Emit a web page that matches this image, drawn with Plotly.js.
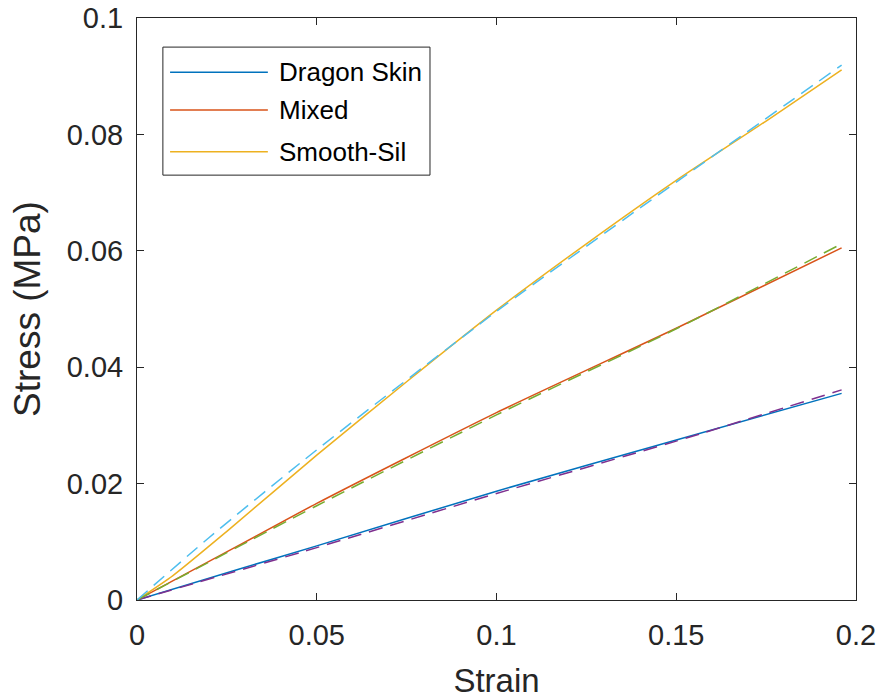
<!DOCTYPE html>
<html>
<head>
<meta charset="utf-8">
<script src="https://cdn.plot.ly/plotly-3.0.1.min.js"></script>
<style>
  html, body { margin: 0; padding: 0; background: #ffffff; }
  #chart { width: 892px; height: 699px; }
</style>
</head>
<body>
<div id="chart"></div>
<script>
// Measured stress-strain curves (solid) and model fits (dashed)
const seriesNames = ['Dragon Skin', 'Mixed', 'Smooth-Sil'];

const dragonStrain = [0, 0.0278, 0.05, 0.1, 0.15, 0.196];
const dragonStress = [0, 0.0052, 0.0093, 0.0187, 0.0275, 0.0355];
const mixedStrain = [0, 0.0278, 0.05, 0.1, 0.15, 0.196];
const mixedStress = [0, 0.0092, 0.0166, 0.0322, 0.0467, 0.0605];
const smoothStrain = [0, 0.01, 0.025, 0.05, 0.075, 0.1, 0.125, 0.15, 0.175, 0.196];
const smoothStress = [0, 0.0042, 0.0118, 0.0249, 0.0375, 0.0498, 0.0612, 0.0721, 0.0823, 0.0911];

const dragonFitStrain = [0, 0.05, 0.1, 0.15, 0.196];
const dragonFitStress = [0, 0.0090, 0.0183, 0.0273, 0.0361];
const mixedFitStrain = [0, 0.05, 0.1, 0.15, 0.196];
const mixedFitStress = [0, 0.0162, 0.0318, 0.0466, 0.0612];
const smoothFitStrain = [0, 0.02, 0.05, 0.1, 0.15, 0.196];
const smoothFitStress = [0, 0.0107, 0.0258, 0.0496, 0.0718, 0.0919];

const xTickVals = [0, 0.05, 0.1, 0.15, 0.2];
const xTickText = ['0', '0.05', '0.1', '0.15', '0.2'];
const yTickVals = [0, 0.02, 0.04, 0.06, 0.08, 0.1];
const yTickText = ['0', '0.02', '0.04', '0.06', '0.08', '0.1'];

const solidColors = ['#0072BD', '#D95319', '#EDB120'];
const fitColors = ['#7E2F8E', '#77AC30', '#4DBEEE'];

const solidX = [dragonStrain, mixedStrain, smoothStrain];
const solidY = [dragonStress, mixedStress, smoothStress];
const fitX = [dragonFitStrain, mixedFitStrain, smoothFitStrain];
const fitY = [dragonFitStress, mixedFitStress, smoothFitStress];

const traces = [];
for (let i = 0; i < 3; i++) {
  traces.push({
    x: solidX[i], y: solidY[i], type: 'scatter', mode: 'lines',
    name: seriesNames[i], showlegend: false,
    line: { color: solidColors[i], width: 1.5, shape: 'spline', smoothing: 0.6 }
  });
}
for (let i = 0; i < 3; i++) {
  traces.push({
    x: fitX[i], y: fitY[i], type: 'scatter', mode: 'lines',
    name: seriesNames[i] + ' fit', showlegend: false,
    line: { color: fitColors[i], width: 1.5, dash: '14px,8px', shape: 'spline', smoothing: 0.6 }
  });
}

// Boxed legend in the upper-left corner with long line samples
const fontFamily = 'Liberation Sans, Arial, Helvetica, sans-serif';
const legX0 = 0.036, legX1 = 0.4075, legY0 = 0.730, legY1 = 0.950;
const legRows = [0.907, 0.842, 0.770];
const shapes = [{
  type: 'rect', xref: 'paper', yref: 'paper',
  x0: legX0, x1: legX1, y0: legY0, y1: legY1,
  line: { color: '#262626', width: 1 }, fillcolor: '#ffffff'
}];
const annotations = [];
seriesNames.forEach((nm, i) => {
  shapes.push({
    type: 'line', xref: 'paper', yref: 'paper',
    x0: 0.046, x1: 0.182, y0: legRows[i], y1: legRows[i],
    line: { color: solidColors[i], width: 1.5 }
  });
  annotations.push({
    xref: 'paper', yref: 'paper', x: 0.1947, y: legRows[i],
    xanchor: 'left', yanchor: 'middle', showarrow: false,
    text: nm, font: { family: fontFamily, size: 26, color: '#000000' }
  });
});

const tickFont = { family: fontFamily, size: 29, color: '#262626' };

const layout = {
  width: 892, height: 699,
  margin: { l: 137, r: 36, t: 18, b: 99 },
  paper_bgcolor: '#ffffff', plot_bgcolor: '#ffffff',
  showlegend: false,
  xaxis: {
    range: [0, 0.2], tickvals: xTickVals, ticktext: xTickText,
    showgrid: false, zeroline: false, showline: true, mirror: 'ticks',
    linecolor: '#262626', linewidth: 1, ticks: 'inside', ticklen: 7,
    tickcolor: '#262626', tickfont: tickFont, ticklabelstandoff: 9,
    title: { text: 'Strain', font: { family: fontFamily, size: 33, color: '#262626' }, standoff: 20 }
  },
  yaxis: {
    range: [0, 0.1], tickvals: yTickVals, ticktext: yTickText,
    showgrid: false, zeroline: false, showline: true, mirror: 'ticks',
    linecolor: '#262626', linewidth: 1, ticks: 'inside', ticklen: 7,
    tickcolor: '#262626', tickfont: tickFont, ticklabelstandoff: 7,
    title: { text: 'Stress (MPa)', font: { family: fontFamily, size: 37, color: '#262626' }, standoff: 14 }
  },
  shapes: shapes,
  annotations: annotations
};

Plotly.newPlot('chart', traces, layout, { displayModeBar: false, staticPlot: true });
</script>
</body>
</html>
